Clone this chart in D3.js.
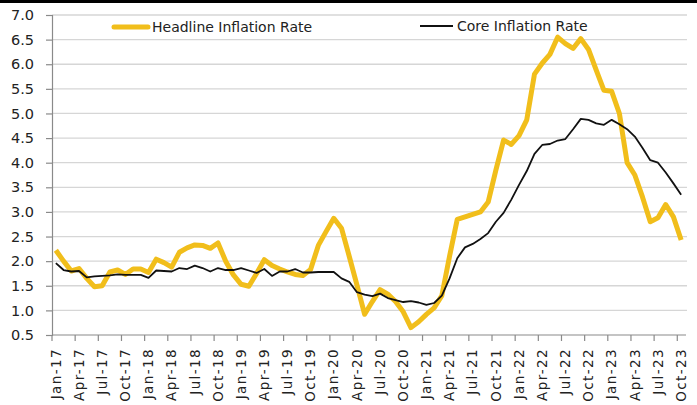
<!DOCTYPE html>
<html>
<head>
<meta charset="utf-8">
<script src="https://cdn.jsdelivr.net/npm/d3@7"></script>
<style>
  html, body { margin: 0; padding: 0; background: #fff; }
  svg { display: block; font-family: "DejaVu Sans", sans-serif; }
</style>
</head>
<body>
<svg id="chart" width="697" height="405"></svg>
<script>
// Monthly categories, Jan-17 through Oct-23
const months = d3.timeMonth.range(new Date(2017, 0, 1), new Date(2023, 10, 1));
const monthLabel = d3.timeFormat("%b-%y");

// Headline inflation rate (%), one value per month
const headline = [
  2.22, 2.00, 1.80, 1.85, 1.65, 1.48, 1.50, 1.78, 1.82, 1.73, 1.84, 1.84,
  1.77, 2.04, 1.97, 1.88, 2.18, 2.27, 2.33, 2.32, 2.26, 2.37, 2.00, 1.72,
  1.53, 1.49, 1.75, 2.03, 1.91, 1.84, 1.78, 1.73, 1.71, 1.83, 2.32, 2.60,
  2.87, 2.67, 2.10, 1.52, 0.92, 1.18, 1.42, 1.33, 1.18, 0.97, 0.65, 0.77,
  0.92, 1.05, 1.30, 2.10, 2.85, 2.90, 2.95, 3.00, 3.20, 3.85, 4.46, 4.37,
  4.55, 4.87, 5.80, 6.02, 6.20, 6.55, 6.42, 6.32, 6.52, 6.30, 5.88, 5.47,
  5.45, 5.00, 4.00, 3.75, 3.30, 2.80, 2.88, 3.15, 2.90, 2.43
];

// Core inflation rate (%), one value per month
const core = [
  1.96, 1.82, 1.79, 1.80, 1.67, 1.69, 1.70, 1.71, 1.73, 1.72, 1.72, 1.72,
  1.66, 1.81, 1.80, 1.79, 1.86, 1.84, 1.91, 1.86, 1.79, 1.86, 1.82, 1.82,
  1.86, 1.81, 1.76, 1.84, 1.70, 1.79, 1.79, 1.84, 1.77, 1.77, 1.78, 1.78,
  1.78, 1.65, 1.58, 1.37, 1.32, 1.29, 1.34, 1.25, 1.21, 1.17, 1.19, 1.16,
  1.11, 1.15, 1.30, 1.65, 2.06, 2.28, 2.35, 2.45, 2.57, 2.80, 2.98, 3.25,
  3.55, 3.83, 4.18, 4.36, 4.38, 4.45, 4.48, 4.68, 4.89, 4.87, 4.80, 4.77,
  4.87, 4.78, 4.68, 4.53, 4.30, 4.05, 4.00, 3.80, 3.58, 3.35
];

const yTicks = [0.5, 1.0, 1.5, 2.0, 2.5, 3.0, 3.5, 4.0, 4.5, 5.0, 5.5, 6.0, 6.5, 7.0];
const seriesNames = ["Headline Inflation Rate", "Core Inflation Rate"];
const seriesColors = ["#F1BE1B", "#111111"];

const svg = d3.select("#chart");
const plot = { left: 52, right: 685, top: 15, bottom: 335 };

// thin black band along the top edge
svg.append("rect").attr("x", 0).attr("y", 0).attr("width", 697).attr("height", 3).attr("fill", "#000");

const x = d3.scaleBand()
  .domain(d3.range(months.length))
  .range([plot.left, plot.right])
  .paddingInner(0).paddingOuter(0);
const bw = x.bandwidth();
const cx = i => x(i) + bw / 2;

const y = d3.scaleLinear().domain([0.5, 7.0]).range([plot.bottom, plot.top]);

// horizontal gridlines
svg.append("g")
  .selectAll("line")
  .data(yTicks.filter(t => t > 0.5))
  .join("line")
  .attr("x1", plot.left).attr("x2", plot.right + 2)
  .attr("y1", d => y(d)).attr("y2", d => y(d))
  .attr("stroke", "#d6d6d6").attr("stroke-width", 1.3);

// y axis
const yAxis = svg.append("g").attr("transform", `translate(${plot.left},0)`)
  .call(d3.axisLeft(y).tickValues(yTicks).tickFormat(d3.format(".1f")).tickSize(6).tickPadding(12));
yAxis.select(".domain").attr("stroke", "#8a8a8a").attr("stroke-width", 1.2);
yAxis.selectAll(".tick line").attr("stroke", "#8a8a8a").attr("stroke-width", 1.2);
yAxis.selectAll(".tick text")
  .attr("fill", "#222").style("font-size", "14.5px").style("font-family", "DejaVu Sans, sans-serif");

// x axis line and quarterly ticks
const xg = svg.append("g");
xg.append("line")
  .attr("x1", plot.left).attr("x2", plot.right + 1)
  .attr("y1", plot.bottom).attr("y2", plot.bottom)
  .attr("stroke", "#8a8a8a").attr("stroke-width", 1.2);
const qIdx = d3.range(months.length).filter(i => i % 3 === 0);
xg.selectAll("line.tk")
  .data(qIdx)
  .join("line").attr("class", "tk")
  .attr("x1", i => x(i)).attr("x2", i => x(i))
  .attr("y1", plot.bottom).attr("y2", plot.bottom + 6)
  .attr("stroke", "#8a8a8a").attr("stroke-width", 1.2);
xg.selectAll("text")
  .data(qIdx)
  .join("text")
  .attr("transform", i => `translate(${cx(i)},${plot.bottom + 13}) rotate(-90)`)
  .attr("text-anchor", "end")
  .attr("dy", "0.35em")
  .attr("fill", "#222")
  .style("font-size", "13.5px")
  .style("letter-spacing", "1.4px")
  .text(i => monthLabel(months[i]));

// series lines
const line = d3.line().x((d, i) => cx(i)).y(d => y(d));
svg.append("path").datum(headline)
  .attr("fill", "none").attr("stroke", seriesColors[0])
  .attr("stroke-width", 5).attr("stroke-linejoin", "round")
  .attr("d", line);
svg.append("path").datum(core)
  .attr("fill", "none").attr("stroke", seriesColors[1])
  .attr("stroke-width", 1.8).attr("stroke-linejoin", "round")
  .attr("d", line);

// legend
const legend = [
  { name: seriesNames[0], color: seriesColors[0], width: 5, x1: 114, x2: 148, y: 27, tx: 152 },
  { name: seriesNames[1], color: seriesColors[1], width: 1.8, x1: 420, x2: 453, y: 26, tx: 457 }
];
const lg = svg.append("g").selectAll("g").data(legend).join("g");
lg.append("line")
  .attr("x1", d => d.x1).attr("x2", d => d.x2)
  .attr("y1", d => d.y).attr("y2", d => d.y)
  .attr("stroke", d => d.color).attr("stroke-width", d => d.width)
  .attr("stroke-linecap", d => d.width > 3 ? "round" : "butt");
lg.append("text")
  .attr("x", d => d.tx).attr("y", d => d.y)
  .attr("dy", "0.36em")
  .attr("fill", "#222")
  .style("font-size", "14px")
  .text(d => d.name);
</script>
</body>
</html>
